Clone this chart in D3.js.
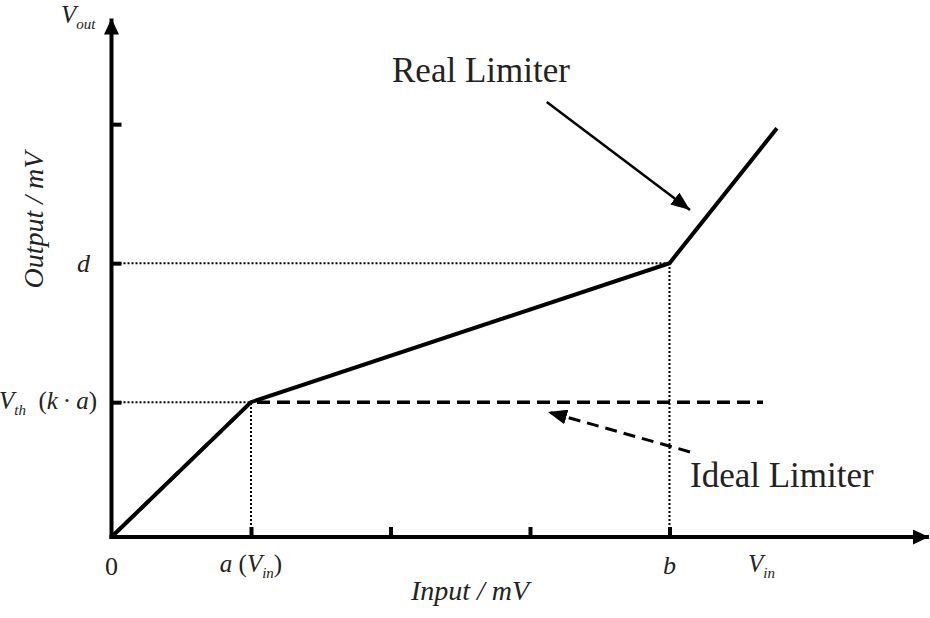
<!DOCTYPE html>
<html>
<head>
<meta charset="utf-8">
<script src="https://cdn.jsdelivr.net/npm/d3@7"></script>
<style>
  html, body { margin: 0; padding: 0; background: #fff; }
  svg { display: block; }
  text { font-family: "Liberation Serif", "Times New Roman", serif; fill: #222; }
</style>
</head>
<body>
<svg id="chart" width="930" height="618"></svg>
<script>
// ---- data (abstract units: 1 x-unit per tick, y in tick units) ----
const xTickValues = [1, 2, 3, 4];              // a, (unlabeled), (unlabeled), b
const yTickValues = [0.97, 1.97, 2.97];        // Vth, d, (unlabeled)
const realX = [0, 1, 4, 4.77];
const realY = [0, 0.97, 1.97, 2.94];
const idealX = [0, 1, 4.67];
const idealY = [0, 0.97, 0.97];
const aValue = 1, bValue = 4;
const vthValue = 0.97, dValue = 1.97;
const xAxisMax = 5.86, yAxisMax = 3.73;
const realArrow = { from: [3.12, 3.13], to: [4.147, 2.353] };
const idealArrow = { from: [4.147, 0.612], to: [3.129, 0.9] };

const svg = d3.select("#chart");
const x = d3.scaleLinear().domain([0, 4]).range([111.5, 669.5]);
const y = d3.scaleLinear().domain([0, 3]).range([537, 120]);

const defs = svg.append("defs");
function marker(id, len, wid) {
  defs.append("marker")
    .attr("id", id).attr("markerUnits", "userSpaceOnUse")
    .attr("viewBox", `0 0 ${len} ${wid}`)
    .attr("refX", len).attr("refY", wid / 2)
    .attr("markerWidth", len).attr("markerHeight", wid)
    .attr("orient", "auto")
    .append("path").attr("d", `M0,0 L${len},${wid / 2} L0,${wid} Z`).attr("fill", "#000");
}
marker("axisHead", 16, 15);
marker("annHead", 19, 15);

// dotted guide lines
const guides = [
  [[0, vthValue], [aValue, vthValue]],
  [[aValue, 0], [aValue, vthValue]],
  [[0, dValue], [bValue, dValue]],
  [[bValue, 0], [bValue, dValue]]
];
const lineGen = d3.line().x(d => x(d[0])).y(d => y(d[1]));
svg.append("g").selectAll("path").data(guides).join("path")
  .attr("d", lineGen).attr("fill", "none").attr("stroke", "#000")
  .attr("stroke-width", 2).attr("stroke-dasharray", "2,2");

// ticks via d3 axes
const xAxis = svg.append("g").attr("transform", `translate(0,${y(0)})`)
  .call(d3.axisBottom(x).tickValues(xTickValues).tickSize(-10).tickSizeOuter(0).tickFormat(""));
const yAxis = svg.append("g").attr("transform", `translate(${x(0)},0)`)
  .call(d3.axisLeft(y).tickValues(yTickValues).tickSize(-10).tickSizeOuter(0).tickFormat(""));
[xAxis, yAxis].forEach(g => {
  g.select(".domain").remove();
  g.selectAll(".tick line").attr("stroke", "#000").attr("stroke-width", 4);
});

// axis lines with arrows
svg.append("line").attr("x1", x(0) - 2).attr("y1", y(0)).attr("x2", x(xAxisMax)).attr("y2", y(0))
  .attr("stroke", "#000").attr("stroke-width", 4).attr("marker-end", "url(#axisHead)");
svg.append("line").attr("x1", x(0)).attr("y1", y(0) + 2).attr("x2", x(0)).attr("y2", y(yAxisMax))
  .attr("stroke", "#000").attr("stroke-width", 4).attr("marker-end", "url(#axisHead)");

// ideal limiter (dashed)
const ideal = idealX.map((v, i) => [v, idealY[i]]);
svg.append("path").attr("d", lineGen(ideal)).attr("fill", "none").attr("stroke", "#000")
  .attr("stroke-width", 3.5).attr("stroke-dasharray", "13,7");

// real limiter (solid)
const real = realX.map((v, i) => [v, realY[i]]);
svg.append("path").attr("d", lineGen(real)).attr("fill", "none").attr("stroke", "#000")
  .attr("stroke-width", 4).attr("stroke-linejoin", "miter");

// annotation arrows
svg.append("line")
  .attr("x1", x(realArrow.from[0])).attr("y1", y(realArrow.from[1]))
  .attr("x2", x(realArrow.to[0])).attr("y2", y(realArrow.to[1]))
  .attr("stroke", "#000").attr("stroke-width", 2.5).attr("marker-end", "url(#annHead)");
svg.append("line")
  .attr("x1", x(idealArrow.from[0])).attr("y1", y(idealArrow.from[1]))
  .attr("x2", x(idealArrow.to[0])).attr("y2", y(idealArrow.to[1]))
  .attr("stroke", "#000").attr("stroke-width", 3).attr("stroke-dasharray", "12,7")
  .attr("marker-end", "url(#annHead)");

// annotation labels
svg.append("text").attr("x", 392).attr("y", 82).attr("font-size", 35).text("Real Limiter");
svg.append("text").attr("x", 690).attr("y", 487).attr("font-size", 35).text("Ideal Limiter");

// helper for subscript labels
function subLabel(parent, xPos, yPos, parts, anchor, size) {
  const t = parent.append("text").attr("x", xPos).attr("y", yPos)
    .attr("text-anchor", anchor).attr("font-size", size)
    .style("white-space", "pre").attr("xml:space", "preserve");
  parts.forEach(p => {
    const s = t.append("tspan").text(p.t);
    if (p.i) s.attr("font-style", "italic");
    if (p.sub) s.attr("font-size", size * 0.6).attr("dy", size * 0.25);
    if (p.up) s.attr("dy", -size * 0.25);
  });
  return t;
}

// x tick labels
svg.append("text").attr("x", x(0)).attr("y", 575).attr("text-anchor", "middle").attr("font-size", 26).text("0");
subLabel(svg, x(aValue), 572, [{t: "a", i: true}, {t: " ("}, {t: "V", i: true}, {t: "in", i: true, sub: true}, {t: ")", up: true}], "middle", 25);
svg.append("text").attr("x", x(bValue)).attr("y", 574).attr("text-anchor", "middle").attr("font-size", 26)
  .attr("font-style", "italic").text("b");
subLabel(svg, 748, 572, [{t: "V", i: true}, {t: "in", i: true, sub: true}], "start", 25);

// y tick labels
svg.append("text").attr("x", 90).attr("y", y(dValue) + 9).attr("text-anchor", "end").attr("font-size", 26)
  .attr("font-style", "italic").text("d");
subLabel(svg, 97, y(vthValue) + 7, [{t: "V", i: true}, {t: "th", i: true, sub: true}, {t: "  (", up: true}, {t: "k", i: true}, {t: "\u2009·\u2009"}, {t: "a", i: true}, {t: ")"}], "end", 25);
subLabel(svg, 61, 23, [{t: "V", i: true}, {t: "out", i: true, sub: true}], "start", 25);

// axis titles
svg.append("text").attr("x", 470).attr("y", 600).attr("text-anchor", "middle").attr("font-size", 28)
  .attr("font-style", "italic").text("Input / mV");
svg.append("text").attr("transform", "translate(43,220) rotate(-90)").attr("text-anchor", "middle")
  .attr("font-size", 28).attr("font-style", "italic").text("Output / mV");
</script>
</body>
</html>
